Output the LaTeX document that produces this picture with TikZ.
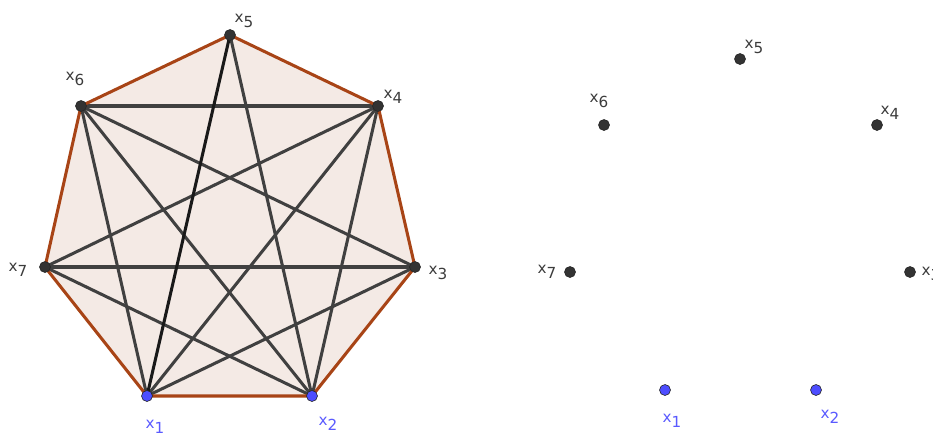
\documentclass[tikz,border=0pt]{standalone}
\usepackage{fontspec}
\setmainfont{DejaVu Sans}
\usetikzlibrary{positioning,calc}

\definecolor{ggbrown}{RGB}{168,68,22}
\definecolor{ggfill}{RGB}{244,234,229}
\definecolor{ggdark}{RGB}{51,51,51}
\definecolor{ggline}{RGB}{64,64,64}
\definecolor{ggblue}{RGB}{77,77,255}
\definecolor{ggtext}{RGB}{60,60,60}
\definecolor{ggbluetext}{RGB}{90,90,255}

\newcommand{\xlab}[1]{x\raisebox{-0.6ex}{#1}}

\tikzset{
  dot/.style={circle,fill=ggdark,draw=black!85,line width=0.5pt,inner sep=0pt,minimum size=0.33cm},
  bluedot/.style={dot,fill=ggblue},
  lbl/.style={inner sep=0pt,text=ggtext,font=\fontsize{13}{15}\selectfont},
  bluelbl/.style={lbl,text=ggbluetext},
  diag/.style={ggline,line width=2.6pt},
  side/.style={ggbrown,line width=2.6pt,line join=round}
}

\begin{document}
\begin{tikzpicture}[x=0.03cm,y=-0.03cm]
  \useasboundingbox (0,0) rectangle (933,438);
  \clip (0,0) rectangle (933,438);
  % vertices of the graph
  \coordinate (a1) at (147,396);
  \coordinate (a2) at (312,396);
  \coordinate (a3) at (415,267);
  \coordinate (a4) at (378,106);
  \coordinate (a5) at (230,35);
  \coordinate (a6) at (81,106);
  \coordinate (a7) at (45,267);
  % vertices without edges
  \coordinate (b1) at (665,390);
  \coordinate (b2) at (816,390);
  \coordinate (b3) at (910,272);
  \coordinate (b4) at (877,125);
  \coordinate (b5) at (740,59);
  \coordinate (b6) at (604,125);
  \coordinate (b7) at (570,272);

  % Heptagon
  \fill[ggfill] (a1) -- (a2) -- (a3) -- (a4) -- (a5) -- (a6) -- (a7) -- cycle;
  % Diagonals (no x5-x3, no x5-x7)
  \foreach \i/\j in {1/3,1/4,1/6,2/4,2/5,2/6,2/7,3/6,4/7}
    \draw[diag] (a\i) -- (a\j);
  \draw[diag,line width=3.2pt] (a6) -- (a4);
  \draw[diag,line width=3.2pt] (a7) -- (a3);
  \draw[diag,black!90] (a1) -- (a5);
  % Sides
  \draw[side] (a1) -- (a2) -- (a3) -- (a4) -- (a5) -- (a6) -- (a7) -- cycle;

  % Points
  \foreach \k in {3,...,7} {
    \node[dot] (p\k) at (a\k) {};
    \node[dot] (q\k) at (b\k) {};
  }
  \foreach \k in {1,2} {
    \node[bluedot] (p\k) at (a\k) {};
    \node[bluedot] (q\k) at (b\k) {};
  }

  % Labels
  \node[bluelbl] (lp1) at (155,427) {\xlab{1}};
  \node[bluelbl] (lp2) at (328,424) {\xlab{2}};
  \node[lbl] (lp3) at (438,273) {\xlab{3}};
  \node[lbl] (lp4) at (393,97) {\xlab{4}};
  \node[lbl] (lp5) at (244,21) {\xlab{5}};
  \node[lbl] (lp6) at (75,79) {\xlab{6}};
  \node[lbl] (lp7) at (18,270) {\xlab{7}};
  \node[bluelbl] (lq1) at (672,421) {\xlab{1}};
  \node[bluelbl] (lq2) at (830,417) {\xlab{2}};
  \node[lbl] (lq3) at (931,274) {\xlab{3}};
  \node[lbl] (lq4) at (890,113) {\xlab{4}};
  \node[lbl] (lq5) at (754,47) {\xlab{5}};
  \node[lbl] (lq6) at (599,101) {\xlab{6}};
  \node[lbl] (lq7) at (547,272) {\xlab{7}};
\end{tikzpicture}
\end{document}
